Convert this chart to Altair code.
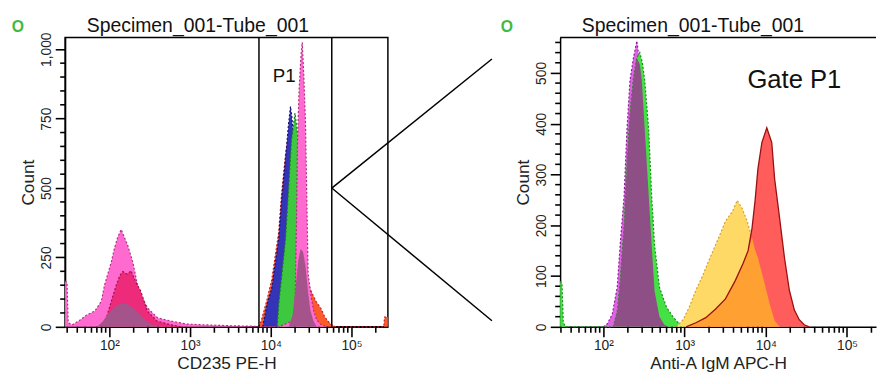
import altair as alt
import pandas as pd

FONT = "Liberation Sans"

# ---------------- Left panel (CD235 PE-H); x values are log10 of intensity ----------------
red_x = [3.85, 3.88, 3.951, 4.012, 4.098, 4.134, 4.183, 4.22, 4.26, 4.30, 4.34, 4.39, 4.44,
         4.49, 4.53, 4.56, 4.62, 4.67, 4.71, 4.75, 4.79, 4.82, 5.40, 5.41, 5.45]
red_y = [0, 20, 95, 170, 340, 480, 620, 690, 700, 620, 440, 270, 170,
         135, 110, 92, 67, 35, 20, 8, 2, 0, 0, 35, 35]

blue_x = [3.90, 3.951, 4.012, 4.098, 4.134, 4.183, 4.22, 4.244, 4.26, 4.29, 4.33, 4.37, 4.41, 4.45, 4.50]
blue_y = [0, 78, 138, 316, 457, 610, 730, 794, 760, 650, 450, 250, 120, 40, 0]

green_x = [4.08, 4.098, 4.183, 4.22, 4.256, 4.30, 4.33, 4.36, 4.40, 4.44, 4.48, 4.52]
green_y = [0, 78, 316, 493, 670, 770, 700, 500, 280, 120, 40, 0]

pink_x = [1.451, 1.475, 1.49, 1.54, 1.62, 1.72, 1.82, 1.90, 1.94, 2.024,
          2.06, 2.10, 2.146, 2.19, 2.23, 2.29, 2.35, 2.41, 2.476, 2.60,
          2.76, 2.96, 3.20, 3.50, 3.80, 4.10, 4.26, 4.30, 4.317, 4.33,
          4.35, 4.375, 4.39, 4.41, 4.43, 4.445, 4.463, 4.50, 4.53, 4.57,
          4.62, 4.70]
pink_y = [165, 160, 15, 7, 21, 43, 57, 92, 150, 234,
          280, 320, 351, 320, 291, 234, 149, 103, 67, 32,
          21, 10, 7, 4, 2, 0, 20, 60, 350, 650,
          850, 980, 1025, 900, 740, 490, 190, 110, 60, 25,
          8, 0]

crimson_x = [1.90, 1.963, 2.024, 2.085, 2.13, 2.167, 2.22, 2.268, 2.33, 2.39, 2.47, 2.59, 2.75, 2.90]
crimson_y = [0, 32, 92, 150, 185, 199, 190, 202, 160, 128, 57, 21, 8, 0]

mauveL_x = [1.85, 1.92, 1.98, 2.06, 2.14, 2.22, 2.30, 2.38, 2.46, 2.55, 2.65,
            4.22, 4.27, 4.31, 4.34, 4.37, 4.40, 4.43, 4.46, 4.49, 4.53, 4.57]
mauveL_y = [0, 20, 45, 70, 85, 82, 68, 45, 20, 6, 0,
            0, 40, 150, 240, 280, 270, 220, 130, 60, 20, 0]

gate_p1 = [7140, 57000]            # P1 gate limits (CD235 PE-H)
zoom_from = [57000, 500]           # apex on the gate edge
zoom_to_x = 5.5e6
zoom_to_y = [965, 22]

# ---------------- Right panel (Anti-A IgM APC-H) ----------------
mag_x = [2.00, 2.048, 2.109, 2.17, 2.206, 2.255, 2.29, 2.327, 2.37, 2.412, 2.473, 2.509,
         2.558, 2.594, 2.63, 2.69, 2.75, 2.80]
mag_y = [0, 6, 25, 78, 161, 258, 388, 485, 530, 563, 485, 388, 258, 161, 70, 20, 4, 0]

grnR_x = [1.467, 1.49, 1.505, 1.53, 2.12, 2.17, 2.206, 2.255, 2.29, 2.327, 2.37, 2.41, 2.448,
          2.48, 2.509, 2.558, 2.594, 2.63, 2.69, 2.776, 2.86, 2.933, 3.02]
grnR_y = [90, 85, 10, 0, 0, 30, 90, 200, 320, 420, 490, 530, 540,
          520, 485, 388, 258, 161, 78, 39, 19, 6, 0]

mauveR_x = [2.12, 2.17, 2.206, 2.255, 2.29, 2.327, 2.37, 2.41, 2.448, 2.473, 2.509, 2.558,
            2.594, 2.63, 2.69, 2.75, 2.80]
mauveR_y = [0, 30, 90, 200, 320, 420, 490, 530, 517, 485, 388, 258, 161, 70, 20, 4, 0]

yel_x = [2.897, 2.982, 3.06, 3.139, 3.22, 3.297, 3.418, 3.503, 3.588, 3.648, 3.709, 3.77,
         3.842, 3.903, 3.988, 4.048, 4.109, 4.17]
yel_y = [0, 14, 40, 72, 100, 130, 175, 208, 227, 249, 233, 208, 169, 136, 84, 45, 12, 0]

redR_x = [3.018, 3.139, 3.261, 3.382, 3.503, 3.624, 3.721, 3.782, 3.83, 3.867, 3.903, 3.952,
          4.012, 4.073, 4.109, 4.17, 4.23, 4.29, 4.352, 4.412, 4.473, 4.533]
redR_y = [0, 8, 18, 35, 55, 91, 125, 150, 194, 247, 311, 363, 392, 363, 291, 214, 136, 72,
          33, 14, 4, 0]

orng_x = [3.018, 3.139, 3.261, 3.382, 3.503, 3.624, 3.721, 3.782, 3.83, 3.867, 3.903, 3.952,
          3.988, 4.048, 4.109, 4.17]
orng_y = [0, 8, 18, 35, 55, 91, 125, 150, 176, 152, 136, 106, 84, 45, 12, 0]

x_major = [100, 1000, 10000, 100000]
x_major_labels = ["10²", "10³", "10⁴", "10⁵"]
x_minor = [30, 40, 50, 60, 70, 80, 90,
           200, 300, 400, 500, 600, 700, 800, 900,
           2000, 3000, 4000, 5000, 6000, 7000, 8000, 9000,
           20000, 30000, 40000, 50000, 60000, 70000, 80000, 90000,
           200000]
yL_major = [0, 250, 500, 750, 1000]
yL_minor = [v for v in range(0, 1001, 50) if v % 250]
yR_major = [0, 100, 200, 300, 400, 500]
yR_minor = [v for v in range(0, 561, 20) if v % 100]

title_text = "Specimen_001-Tube_001"

# ---------------- geometry ----------------
WL, WR, H = 328, 321, 294
xdomL = [10 ** 1.4512, 10 ** (1.4512 + WL / 82.0)]
xdomR = [10 ** 1.4667, 10 ** (1.4667 + WR / 82.5)]
ydomL = [0, 1042.5]
ydomR = [0, 569.8]
TICK_W = 1.6

label_expr = " : ".join(
    f"datum.value == {k} ? '{v}'" for k, v in zip(x_major, x_major_labels)) + " : ''"

AXIS_STYLE = dict(grid=False, ticks=True, tickSize=10, tickColor="black", tickWidth=TICK_W,
                  domainColor="black", domainWidth=1.5,
                  labelFont=FONT, labelFontSize=14, labelColor="#222", labelOverlap=False,
                  labelFlush=False, titleFont=FONT, titleFontWeight="normal",
                  titleColor="#222", titleFontSize=17.5)


def xaxis_major(title):
    return alt.Axis(values=x_major, labelExpr=label_expr, title=title, labelPadding=2,
                    titlePadding=2, orient="bottom", **AXIS_STYLE)


def yaxis_major(ticks, expr):
    return alt.Axis(values=ticks, title="Count", labelExpr=expr, labelAngle=270,
                    labelPadding=2, titlePadding=2, orient="left", **AXIS_STYLE)


NOAX = (None, None)


def sxl(dom):
    return alt.Scale(type="log", domain=dom, nice=False)


def syl(dom):
    return alt.Scale(domain=dom, nice=False)


def encs(xdom, ydom, axes=NOAX, xf="x:Q", yf="y:Q"):
    return dict(x=alt.X(xf, scale=sxl(xdom), axis=axes[0]),
                y=alt.Y(yf, scale=syl(ydom), axis=axes[1]))


def frame(xs, ys):
    return pd.DataFrame({"x": [10 ** v for v in xs], "y": ys})


def hist(xs, ys, fill, outline, xdom, ydom, axes=NOAX, dash=(2, 2), line=True):
    df = frame(xs, ys)
    layers = [alt.Chart(df).mark_area(color=fill, opacity=1, interpolate="linear").encode(
        **encs(xdom, ydom, axes))]
    if line:
        lk = dict(color=outline, strokeWidth=1.2)
        if dash:
            lk["strokeDash"] = list(dash)
        layers.append(alt.Chart(df).mark_line(interpolate="linear", **lk).encode(
            **encs(xdom, ydom)))
    return layers


def minor_ticks(xdom, ydom, ymin):
    xt = alt.Chart(pd.DataFrame({"v": x_minor})).mark_rule(
        color="black", strokeWidth=TICK_W).encode(
        x=alt.X("v:Q", scale=sxl(xdom), axis=None), y=alt.value(H), y2=alt.value(H + 6))
    yt = alt.Chart(pd.DataFrame({"v": ymin})).mark_rule(
        color="black", strokeWidth=TICK_W).encode(
        y=alt.Y("v:Q", scale=syl(ydom), axis=None), x=alt.value(0), x2=alt.value(-5))
    return [xt, yt]


def text_layer(txt, x, y, size, color="#111", weight="normal", align="left"):
    return alt.Chart(pd.DataFrame({"t": [txt]})).mark_text(
        font=FONT, fontSize=size, color=color, fontWeight=weight, align=align,
        baseline="alphabetic").encode(x=alt.value(x), y=alt.value(y), text="t:N")


# ---------------- build left panel ----------------
L = []
L += hist(red_x, red_y, "#ff5a2a", "#c02030", xdomL, ydomL,
          axes=(xaxis_major("CD235 PE-H"),
                yaxis_major(yL_major, "format(datum.value, ',')")))
L += hist(blue_x, blue_y, "#3434b8", "#10106a", xdomL, ydomL)
L += hist(green_x, green_y, "#3ec840", "#1c7a1c", xdomL, ydomL)
L += hist(pink_x, pink_y, "#ff6ad0", "#b0307e", xdomL, ydomL)
L += hist(crimson_x, crimson_y, "#ee2a7b", "#a01048", xdomL, ydomL)
L += hist(mauveL_x, mauveL_y, "#a4548a", None, xdomL, ydomL, line=False)

gate_df = pd.DataFrame({"x": gate_p1})
L.append(alt.Chart(gate_df).mark_rule(color="black", strokeWidth=1.5).encode(
    x=alt.X("x:Q", scale=sxl(xdomL), axis=None)))

zoom_df = pd.DataFrame({"x": [zoom_from[0]] * 2, "y": [zoom_from[1]] * 2,
                        "x1": [zoom_to_x] * 2, "y1": zoom_to_y})
L.append(alt.Chart(zoom_df).mark_rule(color="black", strokeWidth=1.5).encode(
    x2="x1:Q", y2="y1:Q", **encs(xdomL, ydomL)))

p1_df = pd.DataFrame({"x": [10 ** 4.165], "y": [883], "t": ["P1"]})
L.append(alt.Chart(p1_df).mark_text(font=FONT, fontSize=19, color="#111", align="center",
                                     baseline="alphabetic").encode(
    text="t:N", **encs(xdomL, ydomL)))

L.append(text_layer(title_text, 22, -6, 19.7))
L.append(text_layer("O", -48, -6, 16, color="#44b844", weight="bold", align="center"))
L += minor_ticks(xdomL, ydomL, yL_minor)

left = alt.layer(*L).resolve_axis(x="independent", y="independent").properties(
    width=WL, height=H)

# ---------------- build right panel ----------------
R = []
R += hist(mag_x, mag_y, "#e062e6", "#8a2090", xdomR, ydomR,
          axes=(xaxis_major("Anti-A IgM APC-H"),
                yaxis_major(yR_major, "format(datum.value, 'd')")))
R += hist(grnR_x, grnR_y, "#44e044", "#1c8a1c", xdomR, ydomR)
R += hist(mauveR_x, mauveR_y, "#8e4e86", None, xdomR, ydomR, line=False)
R += hist(yel_x, yel_y, "#ffd966", "#d0a030", xdomR, ydomR)
R += hist(redR_x, redR_y, "#ff5c5c", None, xdomR, ydomR, line=False)
R += hist(orng_x, orng_y, "#ffa032", None, xdomR, ydomR, line=False)
R.append(alt.Chart(frame(redR_x, redR_y)).mark_line(color="#9a1010", strokeWidth=1.3).encode(
    **encs(xdomR, ydomR)))

gp_df = pd.DataFrame({"x": [10 ** 4.352], "y": [471], "t": ["Gate P1"]})
R.append(alt.Chart(gp_df).mark_text(font=FONT, fontSize=26, color="#111", align="center",
                                     baseline="alphabetic").encode(
    text="t:N", **encs(xdomR, ydomR)))

R.append(alt.Chart(pd.DataFrame({"a": [0]})).mark_rule(color="black", strokeWidth=1.5).encode(
    x=alt.value(0), x2=alt.value(WR), y=alt.value(0)))
R.append(text_layer(title_text, 22, -6, 19.7))
R.append(text_layer("O", -54, -6, 16, color="#44b844", weight="bold", align="center"))
R += minor_ticks(xdomR, ydomR, yR_minor)

right = alt.layer(*R).resolve_axis(x="independent", y="independent").properties(
    width=WR, height=H, view=alt.ViewBackground(stroke="transparent"))

chart = alt.hconcat(left, right, spacing=175, bounds="flush").properties(
    padding={"left": 3, "top": 4, "right": 0, "bottom": 0},
    background="white",
).configure_view(stroke="black", strokeWidth=1.5)

chart.save("out.html", embed_options={"renderer": "svg", "actions": False})
